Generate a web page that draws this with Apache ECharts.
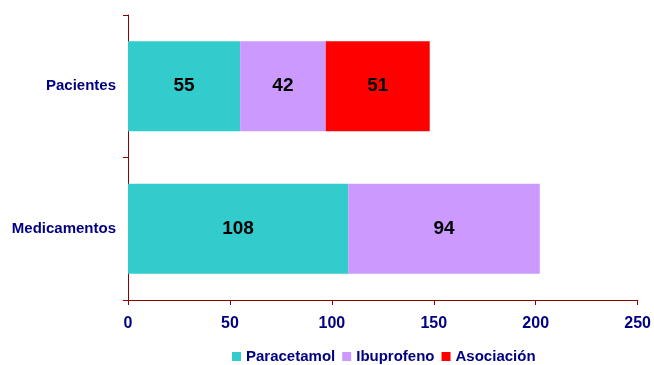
<!DOCTYPE html>
<html>
<head>
<meta charset="utf-8">
<script src="https://cdn.jsdelivr.net/npm/echarts@6/dist/echarts.min.js"></script>
<style>
  html, body { margin: 0; padding: 0; background: #fff; }
  #chart { width: 654px; height: 365px; }
</style>
</head>
<body>
<div id="chart"></div>
<script>
// Categories, bottom to top on the vertical axis
const categories = ['Medicamentos', 'Pacientes'];
const paracetamol = [108, 55];
const ibuprofeno = [94, 42];
const asociacion = [null, 51];
const xTicks = { min: 0, max: 250, interval: 50 };

const navy = '#000080';
const axisRed = '#8B0000';
const font = 'Liberation Sans, Arial, sans-serif';

const labelStyle = {
  show: true,
  position: 'inside',
  color: '#000',
  fontWeight: 'bold',
  fontSize: 19,
  fontFamily: font
};

function barSeries(name, data, color) {
  return {
    name: name,
    type: 'bar',
    stack: 'total',
    data: data,
    barCategoryGap: '37%',
    itemStyle: { color: color },
    label: labelStyle,
    emphasis: { disabled: true }
  };
}

const chart = echarts.init(document.getElementById('chart'), null, { renderer: 'canvas' });
chart.setOption({
  animation: false,
  grid: { left: 128, right: 14, top: 15, bottom: 65 },
  xAxis: {
    type: 'value',
    min: xTicks.min,
    max: xTicks.max,
    interval: xTicks.interval,
    splitLine: { show: false },
    axisLine: { show: true, lineStyle: { color: axisRed, width: 1 } },
    axisTick: { show: true, length: 5, lineStyle: { color: axisRed } },
    axisLabel: { color: navy, fontWeight: 'bold', fontSize: 16, fontFamily: font, margin: 16 }
  },
  yAxis: {
    type: 'category',
    data: categories,
    axisLine: { show: true, lineStyle: { color: axisRed, width: 1 } },
    axisTick: { show: true, length: 5, alignWithLabel: false, lineStyle: { color: axisRed } },
    axisLabel: { color: navy, fontWeight: 'bold', fontSize: 15, fontFamily: font, margin: 12 }
  },
  legend: {
    left: 232,
    top: 349,
    padding: 0,
    itemWidth: 9,
    itemHeight: 9,
    itemGap: 7,
    icon: 'rect',
    textStyle: { color: navy, fontWeight: 'bold', fontSize: 15, fontFamily: font },
    data: ['Paracetamol', 'Ibuprofeno', 'Asociación']
  },
  series: [
    barSeries('Paracetamol', paracetamol, '#33CCCC'),
    barSeries('Ibuprofeno', ibuprofeno, '#CC99FF'),
    barSeries('Asociación', asociacion, '#FF0000')
  ]
});
</script>
</body>
</html>
